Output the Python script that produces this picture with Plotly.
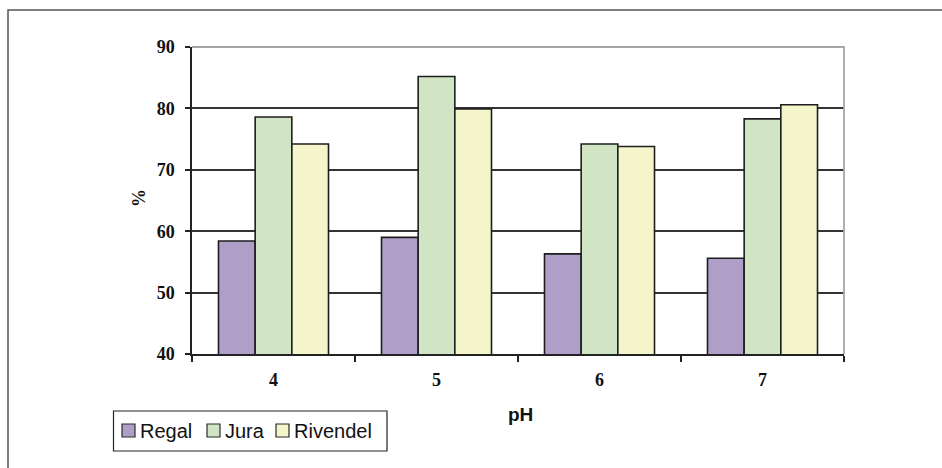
import plotly.graph_objects as go

# pH levels on the category axis
ph_levels = ["4", "5", "6", "7"]

# Percent values per cultivar
regal = [58.4, 59.0, 56.3, 55.6]
jura = [78.6, 85.2, 74.2, 78.3]
rivendel = [74.2, 79.9, 73.8, 80.6]

series_names = ["Regal", "Jura", "Rivendel"]
series_colors = ["#AF9EC7", "#D1E5C5", "#F5F5CC"]
y_ticks = [40, 50, 60, 70, 80, 90]

W, H = 942, 468
# plot area edges in pixels
L, R, T, B = 192, 844, 47, 354


def px_x(x):
    return (x - L) / (R - L)


def px_y(y):
    return (B - y) / (B - T)


serif_bold = dict(family="Liberation Serif", size=18, color="#111", weight="bold")
sans = "Liberation Sans"

fig = go.Figure()
for name, vals, color in zip(series_names, [regal, jura, rivendel], series_colors):
    fig.add_trace(go.Bar(
        x=ph_levels, y=vals, name=name,
        marker=dict(color=color, line=dict(color="#1e1e1e", width=1.6)),
        showlegend=False,
    ))

fig.update_layout(
    width=W, height=H,
    margin=dict(l=L, r=W - R, t=T, b=H - B, pad=0),
    paper_bgcolor="white", plot_bgcolor="white",
    barmode="group", bargap=0.325, bargroupgap=0,
    xaxis=dict(
        type="category", showline=True, linecolor="#222", linewidth=1.5,
        ticks="outside", tickson="boundaries", ticklen=6, tickcolor="#222", tickwidth=1.5,
        showgrid=False, tickfont=serif_bold, ticklabelstandoff=9,
    ),
    yaxis=dict(
        range=[40, 90], tickvals=y_ticks, showline=True, linecolor="#222", linewidth=1.5,
        ticks="outside", ticklen=5, tickcolor="#222", tickwidth=1.5,
        showgrid=True, gridcolor="#333333", gridwidth=1.6, zeroline=False,
        tickfont=serif_bold, ticklabelstandoff=7,
    ),
)

shapes = []
# gray plot-area border on top and right
shapes.append(dict(type="path", xref="paper", yref="paper", layer="above",
                   path="M 0,1 L 1,1 L 1,0", line=dict(color="#A6A6A6", width=1.8)))
# outer chart frame (top and left)
shapes.append(dict(type="path", xref="paper", yref="paper", layer="above",
                   path=f"M {px_x(8)},{px_y(475)} L {px_x(8)},{px_y(10)} L {px_x(950)},{px_y(10)}",
                   line=dict(color="#555555", width=1.5)))

annotations = [
    dict(text="%", xref="paper", yref="paper", x=px_x(139), y=px_y(198),
         textangle=-90, showarrow=False, font=serif_bold, xanchor="center", yanchor="middle"),
    dict(text="pH", xref="paper", yref="paper", x=px_x(520), y=px_y(414),
         showarrow=False, font=dict(family=sans, size=19, color="#111", weight="bold"),
         xanchor="center", yanchor="middle"),
]

# legend box with swatches
shapes.append(dict(type="rect", xref="paper", yref="paper",
                   x0=px_x(113.5), x1=px_x(387), y0=px_y(451), y1=px_y(411),
                   line=dict(color="#222", width=1.2), fillcolor="white"))
swatch_left = [122, 207, 276]
for name, color, sx in zip(series_names, series_colors, swatch_left):
    shapes.append(dict(type="rect", xref="paper", yref="paper",
                       x0=px_x(sx), x1=px_x(sx + 13), y0=px_y(437), y1=px_y(424),
                       line=dict(color="#2b2b2b", width=1.2), fillcolor=color))
    annotations.append(dict(text=name, xref="paper", yref="paper",
                            x=px_x(sx + 16), y=px_y(431), showarrow=False,
                            xanchor="left", yanchor="middle",
                            font=dict(family=sans, size=20, color="#111")))

fig.update_layout(shapes=shapes, annotations=annotations)
fig.write_html("out.html")
